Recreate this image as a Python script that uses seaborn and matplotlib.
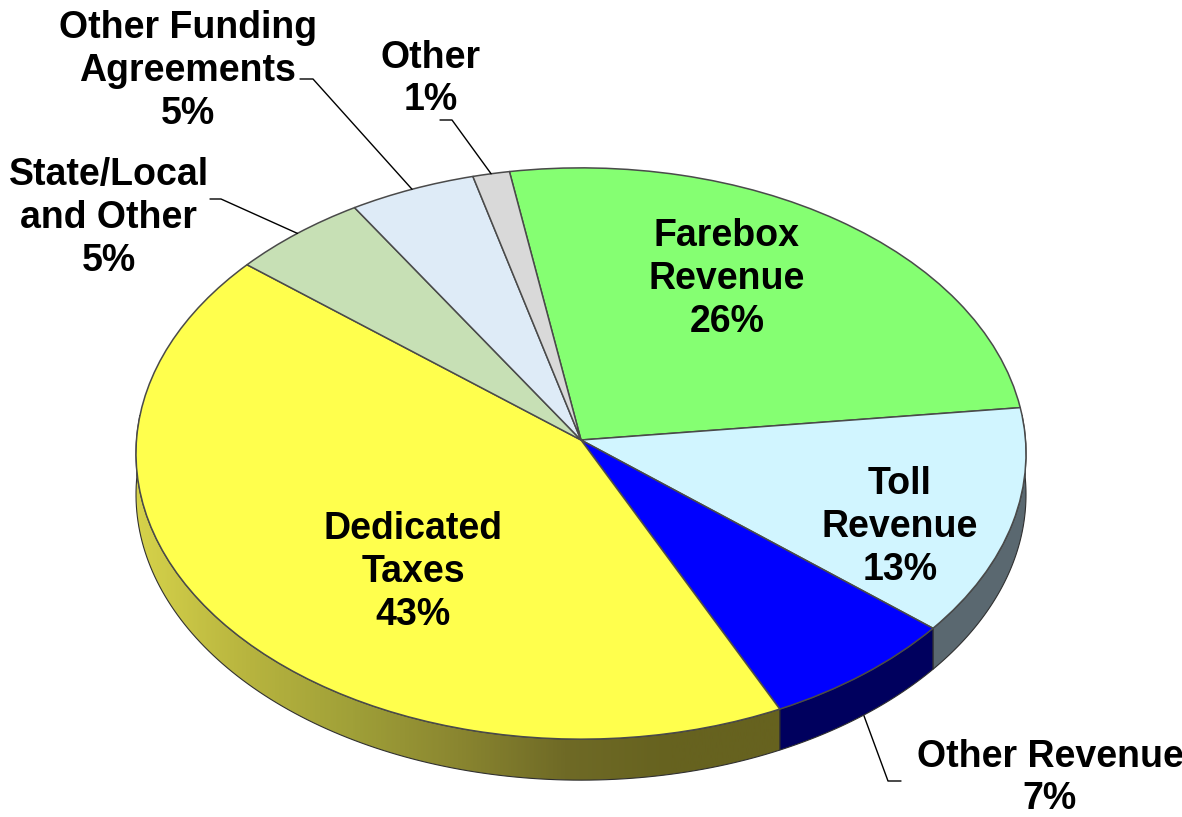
import numpy as np
import matplotlib
matplotlib.use("Agg")
import matplotlib.pyplot as plt
from matplotlib.patches import Polygon
from matplotlib.transforms import Transform
import seaborn as sns

categories = ["Farebox\nRevenue", "Toll\nRevenue", "Other Revenue", "Dedicated\nTaxes",
              "State/Local\nand Other", "Other Funding\nAgreements", "Other"]
shares = [25.9, 12.9, 6.9, 43.0, 5.2, 4.8, 1.4]
shown_pct = [26, 13, 7, 43, 5, 5, 1]
top_colors = ["#85FF72", "#D1F5FF", "#0000FF", "#FFFF4D", "#C7E0B5", "#DEEBF7", "#D9D9D9"]
side_colors = {1: "#5A6870", 2: "#00005E"}
yellow_ramp = ["#D6D24A", "#B8B53F", "#A0A038", "#8A8630", "#6F6A26", "#66621F", "#66621F"]

# where things sit on the 1182x817 canvas
label_xy = [(727, 279), (900, 527), (1050, 778), (413, 572), (109, 218), (188, 71), (431, 79)]
# leader lines: elbow then end, the start comes off the wedge rim
leaders = {2: [(888, 781), (901, 781)], 4: [(221, 199), (210, 199)],
           5: [(313, 79), (300, 79)], 6: [(452, 120), (440, 120)]}
CX, CY, A, B, K = 581, 440, 444.5, 285, 0.0473
DEPTH = 41


class TiltedDisc(Transform):
    # unit pie -> pixels, with the far side a bit smaller like the 3D original
    input_dims = 2
    output_dims = 2

    def transform_non_affine(self, values):
        values = np.asarray(values, dtype=float)
        d = 1 + K * values[:, 1]
        return np.column_stack([CX + A * values[:, 0] / d, CY - B * values[:, 1] / d])


def rim(theta, drop=0):
    t = np.radians(theta)
    pts = TiltedDisc().transform_non_affine(np.column_stack([np.cos(t), np.sin(t)]))
    pts[:, 1] += drop
    return pts


sns.set_theme(style="white")
plt.rcParams["font.family"] = ["Liberation Sans", "DejaVu Sans"]

fig = plt.figure(figsize=(11.82, 8.17), dpi=100)
ax = fig.add_axes([0, 0, 1, 1])

wedges, _ = ax.pie(shares, colors=sns.color_palette(top_colors), startangle=99.7, counterclock=False,
                   wedgeprops=dict(edgecolor="#4A4A4A", linewidth=1.1, zorder=3))
tilt = TiltedDisc() + ax.transData
for w in wedges:
    w.set_transform(tilt)

# side wall under the front of the pie
for i, w in enumerate(wedges):
    lo, hi = max(w.theta1, -185), min(w.theta2, 5)
    if lo >= hi:
        continue
    th = np.linspace(lo, hi, 120)
    outline = np.vstack([rim(th), rim(th, DEPTH)[::-1]])
    if i in side_colors:
        ax.add_patch(Polygon(outline, closed=True, fc=side_colors[i], ec="#303030", lw=0.8, zorder=1))
    else:
        shape = Polygon(outline, closed=True, fc="none", ec="#303030", lw=0.8, zorder=2)
        ax.add_patch(shape)
        ramp = sns.blend_palette(yellow_ramp, as_cmap=True)
        im = ax.imshow(np.linspace(0, 1, 400)[None, :], cmap=ramp, aspect="auto",
                       extent=(136, 780, 817, 0), zorder=1)
        im.set_clip_path(shape)

for i, (x, y) in enumerate(label_xy):
    ax.text(x, y, f"{categories[i]}\n{shown_pct[i]}%", ha="center", va="center", ma="center",
            fontsize=27, fontweight="bold", color="black", linespacing=1.24, zorder=5)

for i, path in leaders.items():
    w = wedges[i]
    start = rim(np.array([(w.theta1 + w.theta2) / 2]), DEPTH if i == 2 else 0)[0]
    xs, ys = zip(*([tuple(start)] + path))
    ax.plot(xs, ys, color="black", lw=1.0, zorder=0.5 if i == 2 else 4)

ax.set_aspect("auto")
ax.set_xlim(0, 1182)
ax.set_ylim(817, 0)
ax.set_axis_off()

fig.savefig("out.png", dpi=100)
